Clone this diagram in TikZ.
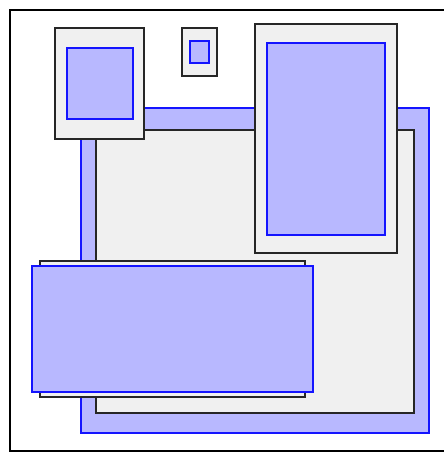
\documentclass[tikz,border=0pt]{standalone}
\definecolor{boxgray}{RGB}{240,240,240}
\definecolor{boxblue}{RGB}{184,184,255}
\definecolor{edgeblue}{RGB}{20,20,255}
\begin{document}
\begin{tikzpicture}[x=1pt,y=-1pt,
  graybox/.style={fill=boxgray, draw=black!85, line width=1.2pt},
  bluebox/.style={fill=boxblue, draw=edgeblue, line width=1.5pt}]
\useasboundingbox (0,0) rectangle (444,453);
\clip (0,0) rectangle (444,453);
\fill[white] (0,0) rectangle (444,453);
% outer frame (right side runs past the picture)
\draw[line width=2pt] (10,10) rectangle (480,451);
% big blue back panel
\draw[bluebox] (81,108) rectangle (429,433);
% big gray panel
\draw[graybox] (96,130) rectangle (414,413);
% top-left box
\draw[graybox] (55,28) rectangle (144,139);
\draw[bluebox] (67,48) rectangle (133,119);
% small box
\draw[graybox] (182,28) rectangle (217,76);
\draw[bluebox] (190,41) rectangle (209,63);
% tall box
\draw[graybox] (255,24) rectangle (397,253);
\draw[bluebox] (267,43) rectangle (385,235);
% bottom wide box
\draw[graybox] (40,261) rectangle (305,397);
\draw[bluebox] (32,266) rectangle (313,392);
\end{tikzpicture}
\end{document}
